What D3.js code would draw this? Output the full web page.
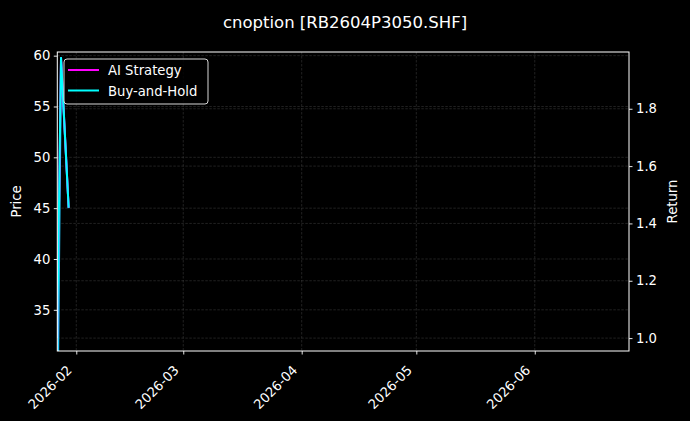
<!DOCTYPE html>
<html>
<head>
<meta charset="utf-8">
<script src="https://cdn.jsdelivr.net/npm/d3@7"></script>
<style>
  html, body { margin: 0; padding: 0; background: #000; }
  svg text { font-family: "DejaVu Sans", sans-serif; fill: #fff; }
</style>
</head>
<body>
<svg id="chart" width="690" height="421"></svg>
<script>
// data
const dates = ["2026-01-27", "2026-01-28", "2026-01-30"];
const price = [21.0, 59.5, 45.0];
const aiReturn = [1.0, 1.98, 1.455];
const bhReturn = [1.0, 1.98, 1.455];

const monthTicks = ["2026-02", "2026-03", "2026-04", "2026-05", "2026-06"];
const priceTicks = [35, 40, 45, 50, 55, 60];
const returnTicks = [1.0, 1.2, 1.4, 1.6, 1.8];

const svg = d3.select('#chart');
const width = 690, height = 421;
const margin = { top: 52, right: 61, bottom: 70, left: 57.3 };
const plotW = width - margin.left - margin.right;
const plotH = height - margin.top - margin.bottom;

const parseDay = d3.timeParse('%Y-%m-%d');
const parseMonth = d3.timeParse('%Y-%m');

const x = d3.scaleTime()
    .domain([new Date(2026, 0, 27, 0, 45), new Date(2026, 5, 25, 16, 0)])
    .range([0, plotW]);
const yPrice = d3.scaleLinear().domain([30.95, 60.36]).range([plotH, 0]);
const yReturn = d3.scaleLinear().domain([0.955, 1.998]).range([plotH, 0]);

svg.append('rect').attr('width', width).attr('height', height).attr('fill', '#000');

// title
svg.append('text')
    .attr('x', width / 2).attr('y', 28)
    .attr('text-anchor', 'middle')
    .style('font-size', '16.5px')
    .text('cnoption [RB2604P3050.SHF]');

const g = svg.append('g').attr('transform', `translate(${margin.left},${margin.top})`);

svg.append('defs').append('clipPath').attr('id', 'plotClip')
    .append('rect').attr('width', plotW).attr('height', plotH);

// grid
const grid = g.append('g')
    .attr('stroke', '#7a7a7a')
    .attr('stroke-opacity', 0.45)
    .attr('stroke-width', 0.6)
    .attr('stroke-dasharray', '2.5,1.5');

const monthDates = monthTicks.map(parseMonth);
grid.selectAll('line.gx').data(monthDates).enter().append('line')
    .attr('x1', d => x(d)).attr('x2', d => x(d))
    .attr('y1', 0).attr('y2', plotH);
grid.selectAll('line.gp').data(priceTicks).enter().append('line')
    .attr('x1', 0).attr('x2', plotW)
    .attr('y1', d => yPrice(d)).attr('y2', d => yPrice(d));
grid.selectAll('line.gr').data(returnTicks).enter().append('line')
    .attr('x1', 0).attr('x2', plotW)
    .attr('y1', d => yReturn(d)).attr('y2', d => yReturn(d));

// lines
const rows = dates.map((d, i) => ({
    date: parseDay(d), price: price[i], ai: aiReturn[i], bh: bhReturn[i]
}));

const lines = g.append('g').attr('clip-path', 'url(#plotClip)');

lines.append('path')
    .datum(rows)
    .attr('fill', 'none')
    .attr('stroke', '#1ec8ff')
    .attr('stroke-width', 2)
    .attr('d', d3.line().x(d => x(d.date)).y(d => yPrice(d.price)));

lines.append('path')
    .datum(rows)
    .attr('fill', 'none')
    .attr('stroke', '#ff00ff')
    .attr('stroke-width', 2)
    .attr('d', d3.line().x(d => x(d.date)).y(d => yReturn(d.ai)));

lines.append('path')
    .datum(rows)
    .attr('fill', 'none')
    .attr('stroke', '#00ffff')
    .attr('stroke-width', 2)
    .attr('d', d3.line().x(d => x(d.date)).y(d => yReturn(d.bh)));

// axes
const xAxis = g.append('g')
    .attr('transform', `translate(0,${plotH})`)
    .call(d3.axisBottom(x).tickValues(monthDates).tickFormat(d3.timeFormat('%Y-%m')).tickSize(3.5));
xAxis.selectAll('text')
    .style('font-size', '13.2px')
    .attr('text-anchor', 'end')
    .attr('x', 0).attr('y', 0).attr('dy', 0)
    .attr('transform', 'translate(-4,20) rotate(-45)');

const leftAxis = g.append('g')
    .call(d3.axisLeft(yPrice).tickValues(priceTicks).tickSize(3.5).tickPadding(3.5));
leftAxis.selectAll('text').style('font-size', '13.2px');

const rightAxis = g.append('g')
    .attr('transform', `translate(${plotW},0)`)
    .call(d3.axisRight(yReturn).tickValues(returnTicks).tickFormat(d3.format('.1f')).tickSize(3.5).tickPadding(3.5));
rightAxis.selectAll('text').style('font-size', '13.2px');

[xAxis, leftAxis, rightAxis].forEach(a => {
    a.select('.domain').remove();
    a.selectAll('line').attr('stroke', '#fff').attr('stroke-width', 0.9);
});

// frame
g.append('rect')
    .attr('width', plotW).attr('height', plotH)
    .attr('fill', 'none').attr('stroke', '#fff').attr('stroke-width', 1);

// axis labels
svg.append('text')
    .attr('transform', `translate(21,${margin.top + plotH / 2}) rotate(-90)`)
    .attr('text-anchor', 'middle')
    .style('font-size', '13.2px')
    .text('Price');
svg.append('text')
    .attr('transform', `translate(677,${margin.top + plotH / 2}) rotate(-90)`)
    .attr('text-anchor', 'middle')
    .style('font-size', '13.2px')
    .text('Return');

// legend
const legendItems = [
    { label: 'AI Strategy', color: '#ff00ff' },
    { label: 'Buy-and-Hold', color: '#00ffff' }
];
const legend = svg.append('g').attr('transform', 'translate(64,59)');
legend.append('rect')
    .attr('width', 144).attr('height', 45)
    .attr('rx', 3)
    .attr('fill', '#000').attr('fill-opacity', 0.8)
    .attr('stroke', '#d8d8d8').attr('stroke-width', 1);
const item = legend.selectAll('g.item').data(legendItems).enter().append('g')
    .attr('transform', (d, i) => `translate(0,${11 + i * 20.5})`);
item.append('line')
    .attr('x1', 4).attr('x2', 35)
    .attr('stroke', d => d.color).attr('stroke-width', 2);
item.append('text')
    .attr('x', 44).attr('y', 5)
    .style('font-size', '13.2px')
    .text(d => d.label);
</script>
</body>
</html>
